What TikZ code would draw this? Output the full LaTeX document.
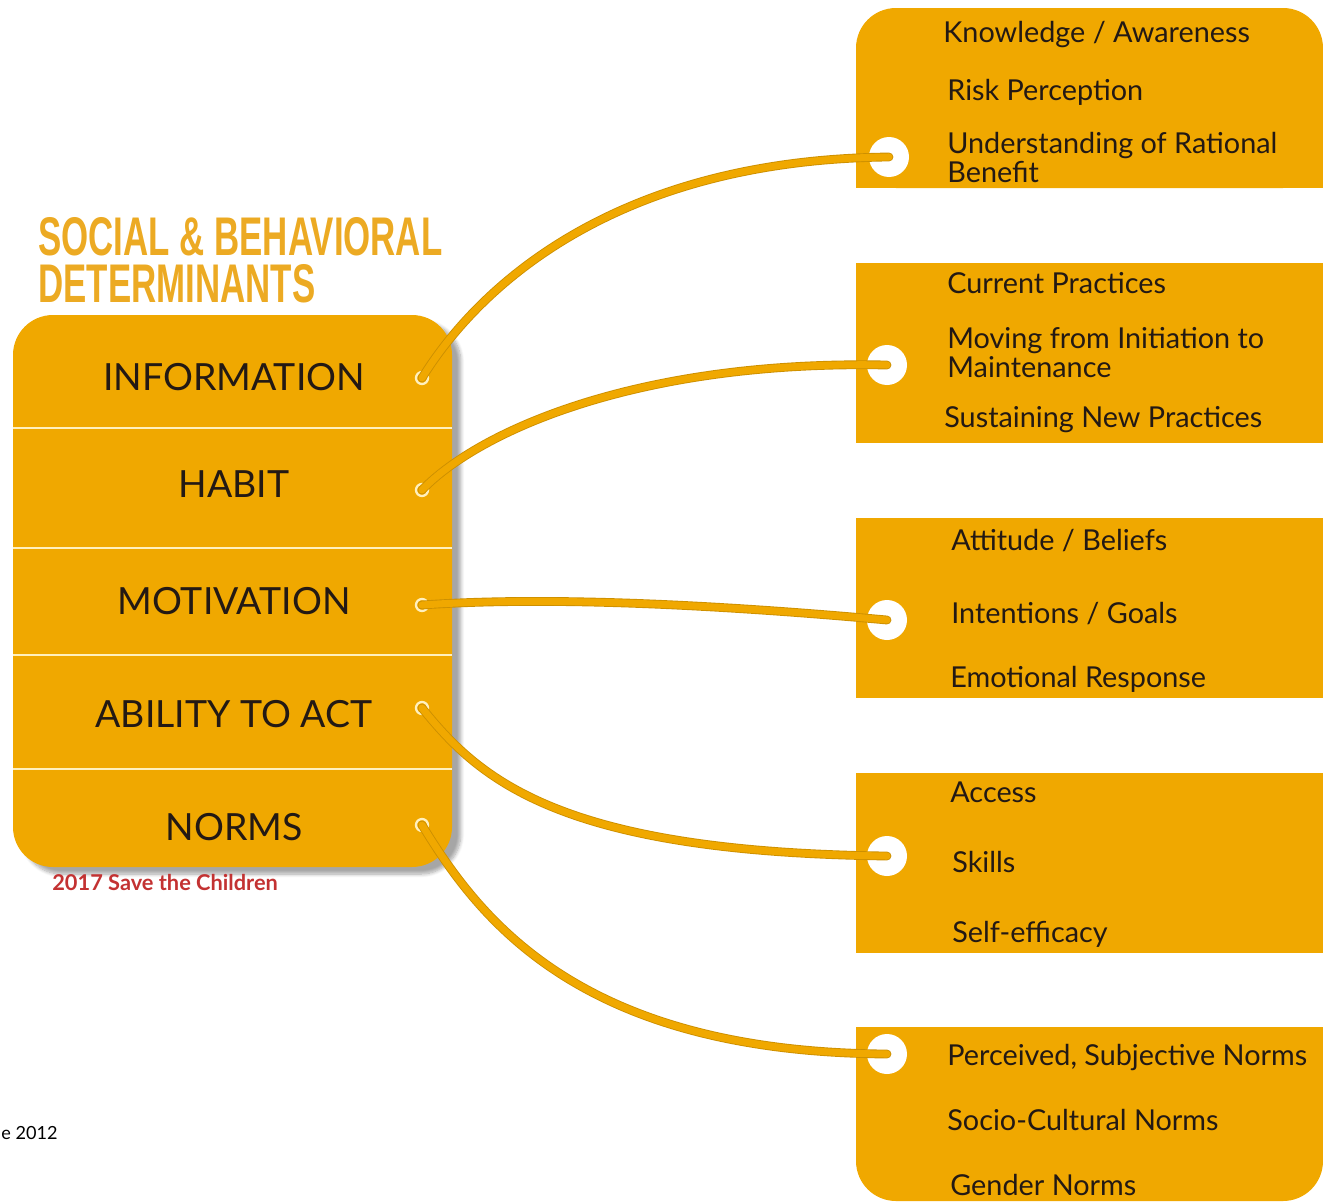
\documentclass[tikz,border=0pt]{standalone}
\usepackage{fontspec}
\setmainfont{Lato}
\newfontfamily\titlefont[FakeStretch=0.64]{Liberation Sans}
\usetikzlibrary{shadows.blur}
\definecolor{morange}{RGB}{240, 168, 0}
\definecolor{mtitle}{RGB}{236, 170, 35}
\definecolor{mcream}{RGB}{255, 240, 190}
\definecolor{mtext}{RGB}{35, 25, 20}
\definecolor{mred}{RGB}{195, 50, 50}
\tikzset{eyelet/.style = {circle, draw=mcream, line width=1.3pt, inner sep=0, minimum size=0.24cm}}
\tikzset{hole/.style = {circle, fill=white, inner sep=0, minimum size=0.8cm}}
\tikzset{lace/.style = {draw=morange, line width=4pt, line cap=round,
                        preaction={draw=morange!85!black, line width=5pt, line cap=round}}}
\tikzset{divider/.style = {draw=mcream, line width=1.2pt}}
\tikzset{heading/.style = {anchor=base west, inner sep=0, text=mtitle, text height=0.75em, text depth=0,
                           font=\titlefont\bfseries\fontsize{31}{31}\selectfont}}
\tikzset{item/.style = {anchor=base west, inner sep=0, align=left, text=mtext,
                        font=\fontsize{16.4}{16.5}\selectfont}}
\tikzset{determinant/.style = {anchor=base, inner sep=0, text=mtext,
                               font=\fontsize{21.3}{24}\selectfont}}

\begin{document}
\begin{tikzpicture}[x=0.02cm, y=-0.02cm]
    \useasboundingbox (0, 0) rectangle (1323, 1204);

    % left panel
    \fill [morange, rounded corners=0.8cm,
           blur shadow={shadow xshift=5pt, shadow yshift=-4pt, shadow blur steps=8, shadow opacity=35}]
      (13, 315) rectangle (452, 867);
    \foreach \y in {428, 548, 655, 769}
      \draw [divider] (13, \y) -- (452, \y);

    \node (titletop) at (38, 255) [heading] {SOCIAL \& BEHAVIORAL};
    \node (titlebottom) at (38, 302) [heading] {DETERMINANTS};

    \node (information) at (234, 390) [determinant] {INFORMATION};
    \node (habit) at (234, 497) [determinant] {HABIT};
    \node (motivation) at (234, 614) [determinant] {MOTIVATION};
    \node (ability) at (234, 727) [determinant] {ABILITY TO ACT};
    \node (norms) at (234, 840) [determinant] {NORMS};

    \node (credit) at (52, 890) [anchor=base west, inner sep=0, text=mred,
                                 font=\bfseries\fontsize{12.4}{14}\selectfont] {2017 Save the Children};
    \node (source) at (1, 1139) [anchor=base west, inner sep=0, text=black,
                                 font=\fontsize{10.3}{12}\selectfont] {e 2012};

    % right panels
    \fill [morange, rounded corners=0.8cm] (856, 8) rectangle (1323, 188);
    \fill [morange] (856, 100) rectangle (1323, 188);
    \fill [morange] (856, 263) rectangle (1323, 443);
    \fill [morange] (856, 518) rectangle (1323, 698);
    \fill [morange] (856, 773) rectangle (1323, 953);
    \fill [morange, rounded corners=0.8cm] (856, 1027) rectangle (1323, 1201);
    \fill [morange] (856, 1027) rectangle (1323, 1110);

    \node (knowledge) at (943, 42) [item] {Knowledge / Awareness};
    \node (risk) at (947, 100) [item] {Risk Perception};
    \node (rational) at (947, 182) [item] {Understanding of Rational\\Benefit};

    \node (current) at (947, 293) [item] {Current Practices};
    \node (moving) at (947, 377) [item] {Moving from Initiation to\\Maintenance};
    \node (sustaining) at (944, 427) [item] {Sustaining New Practices};

    \node (attitude) at (951, 550) [item] {Attitude / Beliefs};
    \node (intentions) at (951, 623) [item] {Intentions / Goals};
    \node (emotional) at (950, 687) [item] {Emotional Response};

    \node (access) at (950, 802) [item] {Access};
    \node (skills) at (952, 872) [item] {Skills};
    \node (efficacy) at (952, 942) [item] {Self-efficacy};

    \node (perceived) at (947, 1065) [item] {Perceived, Subjective Norms};
    \node (cultural) at (947, 1130) [item] {Socio-Cultural Norms};
    \node (gender) at (950, 1195) [item] {Gender Norms};

    % eyelets and holes
    \node (infoeye) at (422, 378) [eyelet] {};
    \node (habiteye) at (422, 490) [eyelet] {};
    \node (motiveye) at (422, 605) [eyelet] {};
    \node (abilityeye) at (422, 708) [eyelet] {};
    \node (normseye) at (422, 825) [eyelet] {};

    \node (infohole) at (889, 157) [hole] {};
    \node (habithole) at (887, 365) [hole] {};
    \node (motivhole) at (887, 620) [hole] {};
    \node (abilityhole) at (887, 856) [hole] {};
    \node (normshole) at (887, 1054) [hole] {};

    % laces
    \draw [lace] (infoeye.center) .. controls (470, 300) and (600, 160) .. (infohole.center);
    \draw [lace] (habiteye.center) .. controls (480, 430) and (640, 360) .. (habithole.center);
    \draw [lace] (motiveye.center) .. controls (550, 596) and (720, 605) .. (motivhole.center);
    \draw [lace] (abilityeye.center) .. controls (480, 780) and (560, 852) .. (abilityhole.center);
    \draw [lace] (normseye.center) .. controls (480, 920) and (580, 1052) .. (normshole.center);
  \end{tikzpicture}
\end{document}
